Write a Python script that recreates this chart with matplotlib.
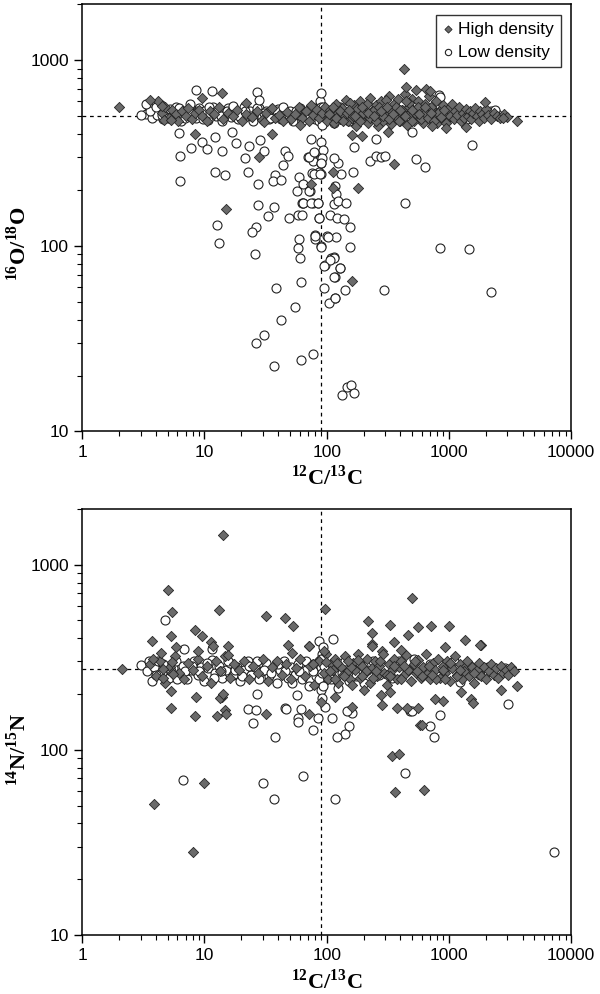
import matplotlib
matplotlib.use("Agg")
import matplotlib.pyplot as plt
from matplotlib.ticker import LogLocator, FixedLocator, FixedFormatter, NullFormatter

# reference lines
c_ref = 89
o_ref = 499
n_ref = 272

# top panel: 12C/13C vs 16O/18O
top_high = [
    (4.2, 600), (4.5, 520), (4.8, 560), (5.1, 490), (5.4, 540), (5.8, 510), (6.1, 470), (6.5, 530),
    (7.0, 500), (7.4, 555), (7.9, 480), (8.3, 520), (9.0, 540), (9.6, 500), (10.5, 470), (11.2, 530),
    (12.0, 510), (13.1, 560), (14.3, 480), (15.5, 520), (17.0, 500), (18.6, 540), (20.3, 470), (22.0, 510),
    (24.5, 495), (26.8, 530), (29.5, 475), (32.0, 520), (35.0, 545), (38.0, 490), (41.0, 505), (44.0, 470),
    (47.5, 525), (51.0, 480), (55.0, 510), (59.0, 560), (63.0, 490), (68.0, 530), (72.0, 470), (77.0, 505),
    (82.0, 545), (86.0, 485), (92.0, 520), (97.0, 560), (101, 470), (106, 540), (110, 500), (115, 460),
    (119, 580), (124, 520), (129, 480), (134, 550), (139, 505), (145, 610), (150, 470), (156, 530),
    (162, 490), (168, 570), (175, 440), (181, 520), (188, 600), (195, 480), (202, 545), (210, 505),
    (218, 460), (226, 625), (234, 530), (243, 490), (252, 570), (261, 440), (270, 515), (280, 600),
    (290, 470), (300, 545), (311, 500), (322, 640), (333, 455), (345, 530), (357, 580), (370, 490),
    (383, 620), (396, 470), (410, 540), (424, 505), (439, 660), (454, 450), (470, 560), (486, 500),
    (503, 620), (520, 470), (538, 545), (556, 600), (575, 490), (595, 530), (615, 460), (636, 580),
    (658, 510), (681, 640), (704, 475), (728, 545), (753, 500), (779, 600), (806, 460), (834, 530),
    (862, 490), (892, 570), (922, 510), (954, 460), (987, 545), (1020, 500), (1055, 580), (1091, 480),
    (1128, 530), (1167, 505), (1207, 560), (1248, 470), (1291, 520), (1335, 490), (1381, 545), (1428, 500),
    (1477, 530), (1528, 480), (1580, 520), (1634, 550), (1690, 500), (1748, 470), (1808, 530), (1870, 510),
    (1934, 490), (2000, 545), (2100, 505), (2220, 480), (2350, 520), (2480, 500), (2620, 490), (2800, 510),
    (3000, 495),
    (105, 510), (112, 560), (120, 490), (128, 530), (137, 470), (146, 520), (155, 590), (165, 500),
    (176, 545), (187, 470), (199, 520), (212, 580), (225, 490), (239, 535), (254, 470), (270, 560),
    (287, 500), (305, 610), (324, 480), (344, 525), (366, 560), (389, 470), (413, 540), (439, 500),
    (467, 590), (496, 470), (527, 520), (560, 560), (595, 480), (632, 520), (672, 490), (714, 560),
    (759, 470), (807, 520), (858, 495), (912, 540),
    (152, 540), (171, 500), (193, 560), (217, 520), (245, 500), (276, 530), (311, 560), (350, 510),
    (395, 540), (445, 600), (501, 540), (565, 510), (637, 560), (718, 520),
    (2.0, 560), (3.6, 608), (4.5, 564), (4.7, 474), (5.35, 474), (15, 158), (14, 665), (9.5, 625),
    (8.4, 400), (22, 590), (36, 400), (28, 300), (36, 550), (30.5, 464), (60, 446), (75, 572),
    (112, 250), (75, 215), (112, 205), (180, 205), (355, 275), (160, 65), (430, 900), (445, 714),
    (536, 688), (650, 697), (700, 680), (1970, 593), (3580, 468), (2770, 486), (944, 429), (730, 440),
    (320, 408), (1380, 435), (162, 394), (195, 388),
]

top_low = [
    (3.3, 510), (3.5, 560), (3.7, 490), (3.9, 530), (4.1, 505), (4.4, 575), (4.6, 480), (4.9, 520),
    (5.2, 545), (5.5, 495), (5.8, 560), (6.1, 510), (6.4, 470), (6.8, 535), (7.2, 500), (7.6, 580),
    (8.0, 520), (8.5, 490), (9.0, 555), (9.5, 505), (10.0, 535), (10.6, 475), (11.2, 520), (11.8, 560),
    (12.5, 500), (13.2, 540), (14.0, 470), (14.8, 515), (15.7, 555), (16.6, 495), (17.6, 530), (18.7, 480),
    (19.8, 515), (21.0, 560), (22.3, 500), (23.6, 530), (25.0, 470), (26.5, 520), (28.1, 550), (29.8, 495),
    (31.6, 535), (33.5, 480), (35.5, 515), (37.6, 500), (39.9, 545), (42.3, 480), (44.8, 520), (47.5, 495),
    (50.4, 530), (53.4, 470), (56.6, 510), (60.0, 550), (63.6, 490), (67.4, 525), (71.5, 500), (75.8, 560),
    (80.3, 480), (85.1, 530), (88.0, 600), (90.0, 560), (92.0, 510), (95.6, 470), (101, 540), (107, 500),
    (114, 460), (121, 530), (128, 560), (136, 490), (144, 520), (153, 470), (162, 545), (172, 500),
    (182, 530), (205, 490), (230, 560), (260, 510), (290, 480), (330, 540), (370, 500), (420, 520),
    (470, 560), (540, 505), (610, 480), (700, 530), (800, 510), (900, 545), (1050, 495), (1200, 530),
    (1400, 480), (1650, 520), (1900, 500), (2200, 530), (2450, 510),
    (3.6, 530), (4.0, 560), (4.5, 505), (5.0, 490), (5.6, 525), (6.2, 555), (6.9, 490), (7.7, 520),
    (8.7, 530), (9.8, 480), (10.9, 560), (12.2, 525), (13.6, 500), (15.2, 535), (17.0, 565), (19.0, 500),
    (21.5, 530), (24.0, 500), (27.0, 555), (30.5, 520), (34.5, 490), (39.0, 530), (44.0, 560), (49.5, 505),
    (56.0, 535), (63.0, 470), (71.0, 540), (80.0, 510), (86.0, 470), (89.0, 520), (91.0, 450), (93.0, 560),
    (3.0, 508), (3.35, 584), (8.5, 688), (11.6, 686), (26.8, 674), (28.0, 613), (90, 666), (836, 647),
    (2400, 537), (852, 632), (251, 374), (494, 410),
    (6.2, 406), (6.3, 303), (6.3, 222), (7.8, 337), (9.6, 363), (10.4, 331), (12.3, 385), (14.0, 324),
    (16.8, 408), (18.2, 360), (21.5, 297), (23.3, 344), (28.3, 370), (30.6, 326), (12.1, 249), (14.8, 242),
    (22.6, 251), (27.4, 216), (37.8, 240), (36.3, 224), (42.5, 227), (43.7, 271), (45.3, 324), (48.4, 306),
    (58.9, 236), (57.3, 198), (72.7, 197), (70.8, 300), (76.6, 287), (79.4, 318), (76.2, 247), (86.8, 249),
    (74.8, 374), (89.5, 362), (93.6, 329), (89.5, 280), (90, 244), (62.6, 171), (64.2, 170), (76.6, 170),
    (85.2, 170), (87, 142), (58.1, 147), (49, 142), (37, 162), (33, 145), (27.4, 166), (26.5, 126),
    (24.6, 119), (26.1, 90), (12.6, 129), (13.2, 103), (59.7, 109), (58.6, 97), (60.5, 86), (80.8, 114),
    (80.2, 109), (90.5, 100), (101.4, 113), (120, 112), (108.5, 86), (114, 87), (96, 79), (129, 76),
    (116, 68), (61.5, 64), (38.2, 59), (95, 59), (55, 47), (42.4, 40), (30.6, 33), (26.5, 30),
    (37, 22.5), (62, 24.3), (77, 26), (118, 52), (104, 49), (142, 58), (133, 15.7), (146, 17.3),
    (157, 17.8), (167, 16.1),
    (1545, 351), (533, 295), (634, 267), (433, 169), (852, 97.5), (1450, 95.5), (2210, 56.4), (294, 58),
    (226, 288), (254, 304), (276, 300), (299, 306), (167, 340), (164, 249), (130, 244), (124, 280),
    (114, 297), (79, 244), (88, 244), (72, 300), (79, 319), (91, 298), (89, 279), (64, 214),
    (72, 198), (64, 169), (75, 169), (85, 169), (62.6, 146), (86.8, 142), (116, 209), (120, 190),
    (114, 168), (124, 174), (143, 170), (106, 147), (122, 141), (138, 140), (154, 127), (80, 113),
    (103, 112), (155, 99), (90, 99), (115, 86), (106, 84), (95, 78), (128, 76), (115, 68),
    (117, 52),
]

# bottom panel: 12C/13C vs 14N/15N
bottom_high = [
    (3.6, 290), (4.0, 250), (4.3, 300), (4.8, 230), (5.2, 280), (5.7, 320), (6.2, 260), (6.8, 240),
    (7.3, 295), (8.0, 270), (8.8, 310), (9.5, 250), (10.4, 285), (11.3, 230), (12.4, 300), (13.5, 265),
    (14.8, 320), (16.1, 245), (17.6, 290), (19.2, 270), (21.0, 300), (23.0, 240), (25.1, 285), (27.4, 260),
    (30.0, 310), (32.8, 235), (35.8, 280), (39.1, 300), (42.7, 255), (46.7, 290), (51.0, 240), (55.7, 275),
    (60.8, 310), (66.4, 250), (72.5, 285), (79.2, 225), (86.5, 300), (94.5, 260), (98.0, 330), (103, 240),
    (108, 290), (113, 270), (118, 310), (124, 230), (130, 280), (136, 255), (142, 320), (149, 265),
    (156, 240), (163, 295), (171, 270), (179, 330), (187, 245), (196, 285), (205, 260), (215, 310),
    (225, 230), (236, 275), (247, 300), (258, 250), (270, 285), (283, 340), (296, 260), (310, 225),
    (325, 290), (340, 270), (356, 310), (373, 240), (390, 280), (408, 300), (427, 255), (447, 325),
    (468, 270), (490, 235), (513, 290), (537, 260), (562, 305), (588, 245), (616, 280), (645, 330),
    (675, 260), (706, 240), (739, 295), (774, 270), (810, 310), (848, 245), (888, 285), (929, 260),
    (973, 300), (1018, 235), (1066, 275), (1116, 320), (1168, 255), (1222, 290), (1280, 240), (1340, 275),
    (1402, 300), (1468, 250), (1537, 280), (1609, 230), (1684, 270), (1763, 295), (1845, 250), (1932, 280),
    (2022, 240), (2117, 265), (2216, 290), (2320, 255), (2428, 275), (2542, 245), (2661, 285), (2786, 260),
    (2916, 270), (3053, 255), (3196, 280), (3400, 265),
    (106, 265), (121, 295), (139, 250), (159, 280), (182, 305), (208, 265), (237, 245), (271, 300),
    (309, 255), (353, 285), (403, 240), (460, 270), (526, 300), (600, 250), (686, 285), (783, 240),
    (895, 270), (1022, 295), (1167, 250), (1333, 265), (116, 240), (148, 300), (193, 250), (251, 265),
    (327, 250), (425, 285), (553, 265), (720, 255), (937, 240), (1220, 270), (1590, 260),
    (14.3, 1440), (5.0, 733), (5.4, 553), (13.2, 571), (31.8, 528), (45.4, 518), (53, 465), (8.3, 441),
    (9.6, 412), (5.3, 410), (3.7, 387), (4.4, 335), (5.9, 359), (11.4, 380), (15.7, 364), (8.9, 340),
    (3.8, 308), (2.1, 272), (5.3, 207), (5.3, 168), (8.6, 193), (13.9, 193), (14.6, 164), (15, 156),
    (12.6, 153), (8.4, 152), (32, 156), (4.6, 245), (5.4, 260), (11.7, 362), (15.6, 324), (4.6, 272),
    (5.4, 298), (5.5, 258), (13.5, 191), (14.1, 200), (72, 157), (48.6, 366), (52, 333), (72, 362),
    (95.6, 340), (77, 292), (99.5, 298), (90, 182), (494, 661), (97, 579), (219, 494), (327, 474),
    (560, 460), (719, 464), (1010, 464), (233, 425), (464, 419), (1364, 390), (1842, 366), (233, 375),
    (235, 362), (355, 382), (288, 331), (402, 348), (925, 359), (1780, 370), (72, 364), (2680, 210),
    (3590, 220), (1265, 204), (1527, 188), (1565, 178), (776, 189), (890, 183), (281, 174), (377, 169),
    (455, 169), (556, 169), (585, 136), (597, 136), (162, 223), (162, 171), (202, 210), (276, 197),
    (327, 205), (118, 194), (8.0, 28),
    (3.9, 51), (10, 66), (340, 93), (360, 59), (390, 95), (630, 61),
]

bottom_low = [
    (3.0, 287), (3.4, 267), (3.7, 236), (3.9, 280), (4.2, 300), (4.5, 260), (4.8, 285), (5.1, 245),
    (5.5, 275), (5.9, 300), (6.3, 255), (6.7, 285), (7.2, 240), (7.7, 270), (8.2, 300), (8.8, 255),
    (9.4, 280), (10.0, 235), (10.7, 275), (11.5, 305), (12.3, 260), (13.1, 285), (14.0, 245), (15.0, 270),
    (16.1, 295), (17.2, 255), (18.4, 280), (19.7, 235), (21.1, 270), (22.6, 300), (24.2, 255), (25.9, 280),
    (27.7, 240), (29.7, 265), (31.8, 295), (34.0, 250), (36.4, 275), (39.0, 230), (41.7, 270), (44.7, 300),
    (47.8, 245), (51.2, 280), (54.8, 255), (58.6, 290), (62.8, 240), (67.2, 270), (71.9, 220), (77.0, 290),
    (82.4, 250), (86.0, 300), (88.0, 230), (89.0, 270), (90.0, 210), (91.0, 330), (92.0, 190), (93.0, 250),
    (94.0, 300), (96.0, 170), (101, 275), (108, 240), (116, 290), (124, 215), (133, 260), (142, 300),
    (152, 235), (163, 275), (175, 250), (187, 290), (200, 230), (215, 270), (240, 300), (270, 255),
    (300, 280), (340, 245), (390, 300), (450, 270), (520, 310), (600, 260), (700, 290), (800, 250),
    (950, 280), (1100, 300), (1300, 265), (1500, 285), (1800, 255), (2100, 280), (2500, 265), (2900, 275),
    (3.5, 300), (4.0, 255), (4.6, 290), (5.3, 265), (6.0, 240), (6.9, 265), (7.9, 285), (9.1, 265),
    (10.4, 295), (11.9, 245), (13.6, 265), (15.6, 300), (17.8, 270), (20.4, 250), (23.3, 285), (26.7, 300),
    (30.5, 270), (34.9, 260), (39.9, 290), (45.6, 265), (52.1, 230), (59.6, 265), (68.1, 300), (77.9, 265),
    (87, 240), (89.5, 280), (90.5, 310), (91.5, 260), (92.5, 220), (95, 285),
    (4.8, 500), (6.8, 352), (11.6, 352), (22.5, 167), (26.3, 165), (24.8, 140), (46, 168), (27, 199),
    (38, 117), (46.5, 167), (57, 197), (61.7, 167), (58, 149), (58.6, 142), (77.5, 128), (85, 148),
    (87, 387), (92.7, 359), (112, 398), (852, 154), (152, 134), (142, 122), (122, 117), (162, 159),
    (147, 162), (111, 148), (3037, 176), (1242, 232), (476, 162), (706, 134), (752, 118), (494, 162),
    (7300, 28),
    (6.7, 69), (30, 66), (37, 54), (64, 72), (118, 54), (440, 75),
]

x_ticks = [1, 10, 100, 1000, 10000]
y_ticks = [10, 100, 1000]

plt.rcParams['font.family'] = ['Liberation Sans', 'DejaVu Sans']
plt.rcParams['mathtext.fontset'] = 'custom'
plt.rcParams['mathtext.rm'] = 'Liberation Serif:bold'
plt.rcParams['mathtext.bf'] = 'Liberation Serif:bold'

fig = plt.figure(figsize=(6, 9.94), dpi=100)
ax_top = fig.add_axes([0.137, 0.566, 0.815, 0.4297])
ax_bot = fig.add_axes([0.137, 0.0594, 0.815, 0.4286])


def draw(ax, high, low, yref, ylabel, label_y, legend):
    hx = [p[0] for p in high]
    hy = [p[1] for p in high]
    lx = [p[0] for p in low]
    ly = [p[1] for p in low]
    ax.scatter(lx, ly, marker='o', s=42, facecolor='white', edgecolor='#222222',
               linewidth=0.8, zorder=3, label='Low density')
    ax.scatter(hx, hy, marker='D', s=27, facecolor='#6a6a6a', edgecolor='#262626',
               linewidth=0.6, zorder=3, label='High density')
    ax.axhline(yref, color='black', linestyle=(0, (3, 3)), linewidth=0.9, zorder=1)
    ax.axvline(c_ref, color='black', linestyle=(0, (3, 3)), linewidth=0.9, zorder=1)
    ax.set_xscale('log')
    ax.set_yscale('log')
    ax.set_xlim(1, 10000)
    ax.set_ylim(10, 2000)
    ax.xaxis.set_major_locator(FixedLocator(x_ticks))
    ax.xaxis.set_major_formatter(FixedFormatter([str(t) for t in x_ticks]))
    ax.yaxis.set_major_locator(FixedLocator(y_ticks))
    ax.yaxis.set_major_formatter(FixedFormatter([str(t) for t in y_ticks]))
    ax.xaxis.set_minor_locator(LogLocator(base=10, subs=range(2, 10)))
    ax.yaxis.set_minor_locator(LogLocator(base=10, subs=range(2, 10)))
    ax.xaxis.set_minor_formatter(NullFormatter())
    ax.yaxis.set_minor_formatter(NullFormatter())
    ax.tick_params(which='major', direction='out', length=6, width=1, labelsize=12.5)
    ax.tick_params(which='minor', direction='out', length=3.5, width=0.8)
    for s in ax.spines.values():
        s.set_linewidth(1.1)
    ax.set_xlabel(r'$^{12}$C/$^{13}$C', fontsize=16, fontweight='bold',
                  family='Liberation Serif', labelpad=4)
    ax.set_ylabel(ylabel, fontsize=16, fontweight='bold', family='Liberation Serif')
    ax.yaxis.set_label_coords(-0.105, label_y)
    if legend:
        h, l = ax.get_legend_handles_labels()
        leg = ax.legend(h[::-1], l[::-1], loc='upper right', fontsize=12.5, frameon=True,
                        fancybox=False, edgecolor='black', handlelength=0.6,
                        handletextpad=0.3, borderpad=0.4, labelspacing=0.45,
                        markerscale=0.7, borderaxespad=0.6)
        leg.get_frame().set_linewidth(1.0)


draw(ax_top, top_high, top_low, o_ref, r'$^{16}$O/$^{18}$O', 0.44, True)
draw(ax_bot, bottom_high, bottom_low, n_ref, r'$^{14}$N/$^{15}$N', 0.435, False)

fig.savefig('out.png', dpi=100)
